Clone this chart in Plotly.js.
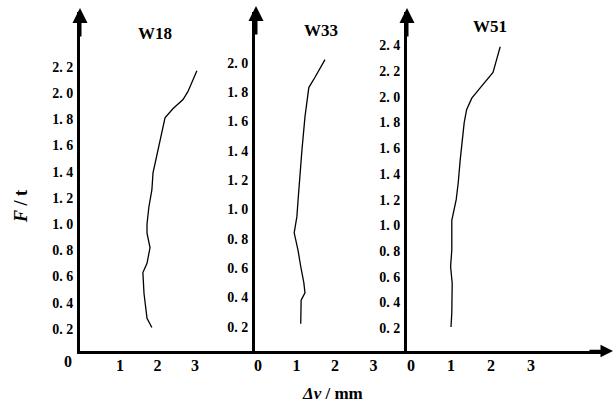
<!DOCTYPE html>
<html>
<head>
<meta charset="utf-8">
<script src="https://cdn.plot.ly/plotly-3.0.1.min.js"></script>
<style>html,body{margin:0;padding:0;background:#fff;}#chart{width:616px;height:403px;}</style>
</head>
<body>
<div id="chart"></div>
<script>
// W18 curve
const w18_dv = [1.85,1.72,1.64,1.61,1.72,1.80,1.72,1.72,1.77,1.85,1.88,1.99,2.07,2.15,2.20,2.41,2.68,2.81,2.92,3.05];
const w18_F  = [0.21,0.28,0.47,0.63,0.70,0.82,0.93,1.00,1.13,1.26,1.39,1.54,1.64,1.74,1.81,1.88,1.95,2.01,2.08,2.17];
// W33 curve
const w33_dv = [1.11,1.12,1.22,1.19,1.11,1.04,0.94,1.01,1.04,1.09,1.14,1.22,1.28,1.32,1.48,1.74];
const w33_F  = [0.22,0.38,0.43,0.50,0.61,0.72,0.84,0.95,1.06,1.25,1.40,1.63,1.74,1.83,1.90,2.02];
// W51 curve
const w51_dv = [1.00,1.02,1.03,0.99,1.02,1.02,1.13,1.18,1.23,1.29,1.33,1.39,1.52,1.73,2.05,2.14,2.23];
const w51_F  = [0.21,0.32,0.55,0.68,0.81,1.04,1.20,1.33,1.51,1.66,1.80,1.90,1.99,2.07,2.19,2.29,2.39];

const panelNames = ['W18','W33','W51'];
const yTicks1 = [0.2,0.4,0.6,0.8,1.0,1.2,1.4,1.6,1.8,2.0,2.2];
const yTicks2 = [0.2,0.4,0.6,0.8,1.0,1.2,1.4,1.6,1.8,2.0];
const yTicks3 = [0.2,0.4,0.6,0.8,1.0,1.2,1.4,1.6,1.8,2.0,2.2,2.4];
const xTicks1 = [1,2,3];
const xTicks23 = [0,1,2,3];

const W = 616, H = 403;
const px = v => v / W;
const py = v => (H - v) / H;
const FONT = 'Liberation Serif, Times New Roman, serif';

const line = {color:'#000', width:1.3};
const data = [
  {x:w18_dv, y:w18_F, xaxis:'x', yaxis:'y', mode:'lines', line:line, showlegend:false},
  {x:w33_dv, y:w33_F, xaxis:'x2', yaxis:'y2', mode:'lines', line:line, showlegend:false},
  {x:w51_dv, y:w51_F, xaxis:'x3', yaxis:'y3', mode:'lines', line:line, showlegend:false}
];

const ydom = [py(351), py(12)];
function xax(dom, range, ticks, anchor) {
  return {domain:dom, range:range, anchor:anchor, showline:true, linewidth:2.5, linecolor:'#000',
    showgrid:false, zeroline:false, ticks:'', tickvals:ticks, ticktext:ticks.map(String),
    tickfont:{family:FONT, size:16, color:'#000', weight:'bold'}, ticklabelstandoff:-2, fixedrange:true};
}
function yax(range, ticks, anchor) {
  return {domain:ydom, range:range, anchor:anchor, showline:true, linewidth:3, linecolor:'#000',
    showgrid:false, zeroline:false, ticks:'', tickvals:ticks,
    ticktext:ticks.map(v=>v.toFixed(1).replace('.', '. ')),
    tickfont:{family:FONT, size:14, color:'#000', weight:'bold'}, ticklabelstandoff:1, fixedrange:true};
}
function label(text, x, y, size, extra) {
  return Object.assign({text:text, x:px(x), y:py(y), xref:'paper', yref:'paper', xanchor:'center', yanchor:'middle',
    showarrow:false, font:{family:FONT, size:size, color:'#000', weight:'bold'}}, extra || {});
}
function arrow(x, y, ax, ay, w) {
  return {text:'', x:px(x), y:py(y), xref:'paper', yref:'paper', showarrow:true, ax:ax, ay:ay,
    arrowhead:2, arrowsize:1, arrowwidth:w, arrowcolor:'#000'};
}

const layout = {
  width:W, height:H, margin:{l:0,r:0,t:0,b:0}, paper_bgcolor:'#fff', plot_bgcolor:'rgba(0,0,0,0)',
  showlegend:false,
  xaxis:  xax([px(80), px(255)], [-0.067, 4.6], xTicks1, 'y'),
  xaxis2: xax([px(255), px(407)], [-0.078, 3.87], xTicks23, 'y2'),
  xaxis3: xax([px(407), px(604)], [-0.1, 4.825], xTicks23, 'y3'),
  yaxis:  yax([0.031, 2.618], yTicks1, 'x'),
  yaxis2: yax([0.034, 2.345], yTicks2, 'x2'),
  yaxis3: yax([0.023, 2.66], yTicks3, 'x3'),
  annotations: [
    label(panelNames[0], 155, 33, 17),
    label(panelNames[1], 321, 31, 17),
    label(panelNames[2], 490, 27, 17),
    label('0', 68, 361, 16),
    label('<i>Δv</i> / mm', 332, 393, 17),
    label('<i>F</i> / t', 21, 207, 18, {textangle:-90}),
    arrow(80, 8, 0, 30, 3),
    arrow(256, 6, 0, 30, 3),
    arrow(407, 8, 0, 30, 3),
    arrow(613, 351, -25, 0, 2.5)
  ]
};

Plotly.newPlot('chart', data, layout, {staticPlot:true, displayModeBar:false});
</script>
</body>
</html>
